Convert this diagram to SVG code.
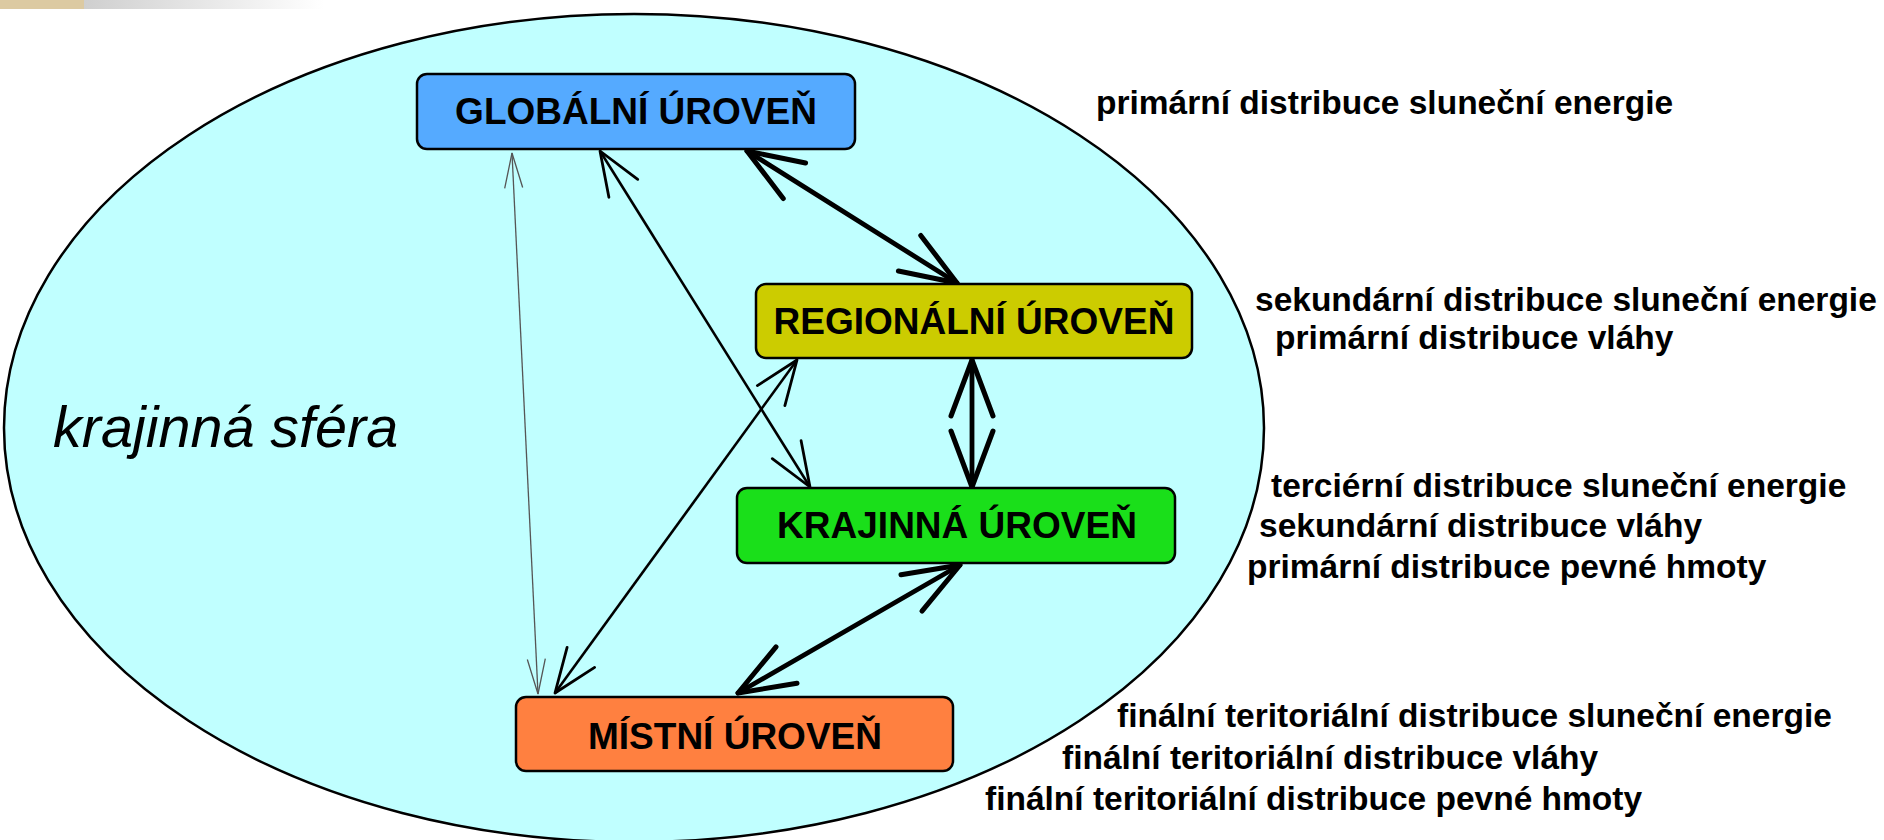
<svg xmlns="http://www.w3.org/2000/svg" width="1884" height="840" viewBox="0 0 1884 840">
  <style>
    .box { stroke: #000; stroke-width: 2.5; }
    .lbl { font-family: "Liberation Sans", Arial, sans-serif; font-weight: bold; font-size: 37px; fill: #000; text-anchor: middle; }
    .side { font-family: "Liberation Sans", Arial, sans-serif; font-weight: bold; font-size: 33.5px; fill: #000; }
    .thin { stroke: #555; stroke-width: 1.3; fill: none; marker-start: url(#hThin); marker-end: url(#hThin); }
    .med { stroke: #000; stroke-width: 2.6; fill: none; marker-start: url(#hMed); marker-end: url(#hMed); }
    .thick { stroke: #000; stroke-width: 4.8; fill: none; stroke-linecap: round; marker-start: url(#hThick); marker-end: url(#hThick); }
  </style>
  <defs>
    <linearGradient id="strip" x1="0" y1="0" x2="1" y2="0">
      <stop offset="0" stop-color="#cfcfcf"/>
      <stop offset="1" stop-color="#ffffff"/>
    </linearGradient>
    <marker id="hThin" markerUnits="userSpaceOnUse" viewBox="-40 -12 44 24" refX="0" refY="0" markerWidth="44" markerHeight="24" orient="auto-start-reverse" overflow="visible">
      <path d="M-35,-9 L0,0 L-35,9" fill="none" stroke="#555" stroke-width="1.3"/>
    </marker>
    <marker id="hMed" markerUnits="userSpaceOnUse" viewBox="-50 -20 54 40" refX="0" refY="0" markerWidth="54" markerHeight="40" orient="auto-start-reverse" overflow="visible">
      <path d="M-44,-17 L0,0 L-44,17" fill="none" stroke="#000" stroke-width="2.8" stroke-linecap="round" stroke-linejoin="round"/>
    </marker>
    <marker id="hThick" markerUnits="userSpaceOnUse" viewBox="-64 -26 68 52" refX="0" refY="0" markerWidth="68" markerHeight="52" orient="auto-start-reverse" overflow="visible">
      <path d="M-56,-21 L0,0 L-56,21" fill="none" stroke="#000" stroke-width="5" stroke-linecap="round" stroke-linejoin="round"/>
    </marker>
  </defs>

  <rect x="0" y="0" width="1884" height="840" fill="#ffffff"/>
  <rect x="84" y="0" width="240" height="9" fill="url(#strip)"/>
  <rect x="0" y="0" width="84" height="9" fill="#dccaa2"/>

  <g id="sphere">
    <ellipse cx="634" cy="428" rx="630" ry="414" fill="#c0ffff" stroke="#000" stroke-width="2.5"/>
    <text x="53" y="447" font-family="'Liberation Sans', Arial, sans-serif" font-style="italic" font-size="57.5" fill="#000">krajinná sféra</text>
  </g>

  <g id="connectors">
    <path class="thin" d="M512,153 L538,694"/>
    <path class="med" d="M600,151 L810,487"/>
    <path class="med" d="M555,693 L797,360"/>
    <path class="thick" d="M747,151 L957,283"/>
    <path class="thick" d="M972,360 L972,487"/>
    <path class="thick" d="M738,693 L960,565"/>
  </g>

  <g id="node-global">
    <rect class="box" x="417" y="74" width="438" height="75" rx="10" fill="#55aaff"/>
    <text class="lbl" x="636" y="124">GLOBÁLNÍ ÚROVEŇ</text>
  </g>
  <g id="node-regional">
    <rect class="box" x="756" y="284" width="436" height="74" rx="10" fill="#cccc00"/>
    <text class="lbl" x="974" y="334">REGIONÁLNÍ ÚROVEŇ</text>
  </g>
  <g id="node-krajinna">
    <rect class="box" x="737" y="488" width="438" height="75" rx="10" fill="#1adf1a"/>
    <text class="lbl" x="957" y="538">KRAJINNÁ ÚROVEŇ</text>
  </g>
  <g id="node-mistni">
    <rect class="box" x="516" y="697" width="437" height="74" rx="10" fill="#ff8040"/>
    <text class="lbl" x="735" y="749">MÍSTNÍ ÚROVEŇ</text>
  </g>

  <g id="side-labels">
    <text class="side" x="1096" y="114">primární distribuce sluneční energie</text>
    <text class="side" x="1255" y="311">sekundární distribuce sluneční energie</text>
    <text class="side" x="1275" y="349">primární distribuce vláhy</text>
    <text class="side" x="1271" y="497">terciérní distribuce sluneční energie</text>
    <text class="side" x="1259" y="537">sekundární distribuce vláhy</text>
    <text class="side" x="1247" y="578">primární distribuce pevné hmoty</text>
    <text class="side" x="1117" y="727">finální teritoriální distribuce sluneční energie</text>
    <text class="side" x="1062" y="769">finální teritoriální distribuce vláhy</text>
    <text class="side" x="985" y="810">finální teritoriální distribuce pevné hmoty</text>
  </g>
</svg>
